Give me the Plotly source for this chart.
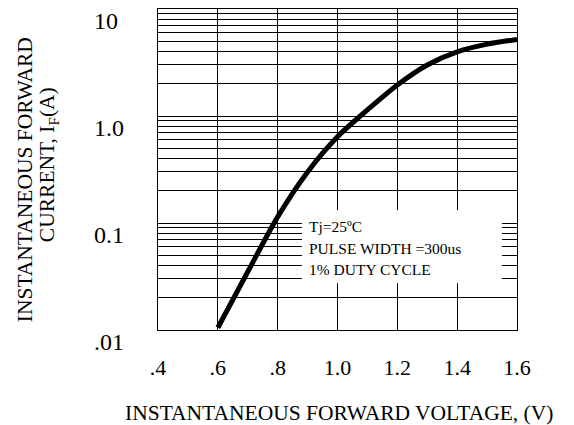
import plotly.graph_objects as go
import math

# Data
voltage = [0.6, 0.7, 0.8, 0.9, 1.0, 1.1, 1.2, 1.3, 1.4, 1.5, 1.6]
current = [0.0105, 0.035, 0.114, 0.30, 0.64, 1.14, 1.95, 3.0, 3.98, 4.7, 5.2]

x_ticks = [0.4, 0.6, 0.8, 1.0, 1.2, 1.4, 1.6]
x_tick_text = [".4", ".6", ".8", "1.0", "1.2", "1.4", "1.6"]
y_ticks = [10, 1, 0.1, 0.01]
y_tick_text = ["10", "1.0", "0.1", ".01"]
y_minor = [m * d for d in (0.01, 0.1, 1) for m in range(2, 10)]

note_lines = ["Tj=25ºC", "PULSE WIDTH =300us", "1% DUTY CYCLE"]

FONT = "Liberation Serif, Times New Roman, serif"

fig = go.Figure()
fig.add_trace(go.Scatter(
    x=voltage, y=current, mode="lines",
    line=dict(color="black", width=5, shape="spline", smoothing=0.8),
    showlegend=False, hoverinfo="skip",
))

# page body adds an 8px margin, so the figure is 8px smaller than the window
fig.update_layout(
    width=566, height=417,
    margin=dict(l=150, r=57, t=1, b=95),
    paper_bgcolor="white", plot_bgcolor="white",
    font=dict(family=FONT, color="black"),
    showlegend=False,
)

fig.update_xaxes(
    range=[0.4, 1.6], tickvals=x_ticks, ticktext=x_tick_text,
    showgrid=True, gridcolor="black", gridwidth=1,
    showline=True, linecolor="black", linewidth=1, mirror=True,
    ticks="", tickfont=dict(size=22, family=FONT, color="black"),
    ticklabelstandoff=18, zeroline=False,
)
fig.update_yaxes(
    type="log", range=[-2, 1], tickvals=y_ticks, showticklabels=False,
    showgrid=True, gridcolor="black", gridwidth=1,
    minor=dict(tickmode="array", tickvals=y_minor, showgrid=True,
               gridcolor="black", gridwidth=1, ticks=""),
    showline=True, linecolor="black", linewidth=1, mirror=True,
    ticks="", zeroline=False,
)

# y tick labels (left-aligned, slightly below their gridlines as in reference)
for v, t in zip(y_ticks, y_tick_text):
    fig.add_annotation(
        x=0, xref="paper", y=math.log10(v), yref="y",
        text=t, showarrow=False, xanchor="left", yanchor="middle",
        xshift=-66, yshift=-12,
        font=dict(size=24, family=FONT, color="black"),
    )

# white note box covering the grid
fig.add_shape(type="rect", xref="paper", yref="paper",
              x0=0.401, x1=0.958, y0=0.146, y1=0.374,
              fillcolor="white", line=dict(width=0), layer="above")

for i, line in enumerate(note_lines):
    fig.add_annotation(
        x=0.415, xref="paper", y=0.321 - i * 0.067, yref="paper",
        text=line, showarrow=False, xanchor="left", yanchor="middle",
        font=dict(size=15.5, family=FONT, color="black"),
    )

# y axis title (two lines)
fig.add_annotation(
    x=-0.370, xref="paper", y=0.467, yref="paper",
    text="INSTANTANEOUS FORWARD",
    textangle=-90, showarrow=False, xanchor="center", yanchor="middle",
    font=dict(size=21.5, family=FONT, color="black"),
)
fig.add_annotation(
    x=-0.306, xref="paper", y=0.514, yref="paper",
    text="CURRENT, I<sub>F</sub>(A)",
    textangle=-90, showarrow=False, xanchor="center", yanchor="middle",
    font=dict(size=21.5, family=FONT, color="black"),
)
# x axis title
fig.add_annotation(
    x=0.504, xref="paper", y=-0.259, yref="paper",
    text="INSTANTANEOUS FORWARD VOLTAGE, (V)",
    showarrow=False, xanchor="center", yanchor="middle",
    font=dict(size=21.5, family=FONT, color="black"),
)

fig.write_html("out.html")
